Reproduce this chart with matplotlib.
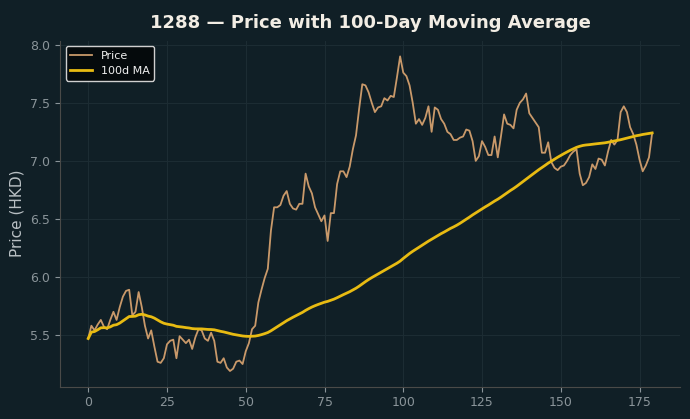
import numpy as np
import pandas as pd
import matplotlib
matplotlib.use("Agg")
import matplotlib.pyplot as plt

ticker = "1288"
window = 100

# daily close
price = [
    5.47, 5.58, 5.54, 5.59, 5.63, 5.57, 5.55, 5.63, 5.70, 5.63,
    5.74, 5.83, 5.88, 5.89, 5.67, 5.70, 5.87, 5.74, 5.58, 5.47,
    5.54, 5.40, 5.27, 5.26, 5.30, 5.42, 5.45, 5.46, 5.30, 5.49,
    5.46, 5.43, 5.46, 5.38, 5.48, 5.55, 5.54, 5.47, 5.45, 5.52,
    5.45, 5.27, 5.26, 5.30, 5.22, 5.19, 5.21, 5.27, 5.28, 5.25,
    5.36, 5.43, 5.55, 5.58, 5.78, 5.89, 5.99, 6.07, 6.40, 6.60,
    6.60, 6.62, 6.70, 6.74, 6.63, 6.59, 6.58, 6.63, 6.63, 6.89,
    6.78, 6.72, 6.60, 6.54, 6.48, 6.53, 6.31, 6.55, 6.55, 6.80,
    6.91, 6.91, 6.86, 6.95, 7.10, 7.22, 7.45, 7.66, 7.65, 7.59,
    7.50, 7.42, 7.46, 7.47, 7.54, 7.52, 7.56, 7.55, 7.72, 7.90,
    7.76, 7.73, 7.65, 7.50, 7.32, 7.36, 7.31, 7.37, 7.47, 7.25,
    7.46, 7.44, 7.36, 7.32, 7.25, 7.23, 7.18, 7.18, 7.20, 7.21,
    7.27, 7.26, 7.17, 7.00, 7.04, 7.17, 7.12, 7.05, 7.05, 7.21,
    7.03, 7.21, 7.40, 7.32, 7.31, 7.28, 7.44, 7.50, 7.53, 7.58,
    7.41, 7.37, 7.33, 7.29, 7.07, 7.07, 7.16, 6.99, 6.94, 6.92,
    6.95, 6.96, 7.00, 7.05, 7.08, 7.10, 6.89, 6.79, 6.81, 6.86,
    6.97, 6.93, 7.02, 7.01, 6.96, 7.08, 7.18, 7.14, 7.18, 7.42,
    7.47, 7.42, 7.29, 7.23, 7.14, 7.01, 6.91, 6.96, 7.03, 7.24,
]

s = pd.Series(price)
ma = s.rolling(window, min_periods=1).mean()

bg = "#101f26"
fig, ax = plt.subplots(figsize=(6.9, 4.19), dpi=100)
fig.patch.set_facecolor(bg)
ax.set_facecolor(bg)

ax.plot(s.index, s.values, color="#c9996a", lw=1.3, label="Price")
ax.plot(ma.index, ma.values, color="#e8bb12", lw=2.0, label="100d MA")

ax.set_title(f"{ticker} \u2014 Price with 100-Day Moving Average",
             color="#f2ede4", fontsize=13, fontweight="bold", pad=9)
ax.set_ylabel("Price (HKD)", color="#b9c0c4", fontsize=11)

ax.grid(True, color="#1c2c33", lw=0.8)
ax.set_axisbelow(True)
for side in ["top", "right"]:
    ax.spines[side].set_visible(False)
for side in ["left", "bottom"]:
    ax.spines[side].set_color("#4a4a48")
ax.tick_params(colors="#8a9499", labelcolor="#8a9499", labelsize=9)
ax.set_yticks([5.5, 6.0, 6.5, 7.0, 7.5, 8.0])

leg = ax.legend(loc="upper left", facecolor="#050a0c", edgecolor="#d0d0d0",
                fontsize=8, framealpha=1.0)
for t in leg.get_texts():
    t.set_color("#f0f0f0")

fig.subplots_adjust(left=0.087, right=0.986, bottom=0.077, top=0.903)
fig.savefig("out.png", dpi=100, facecolor=bg)
